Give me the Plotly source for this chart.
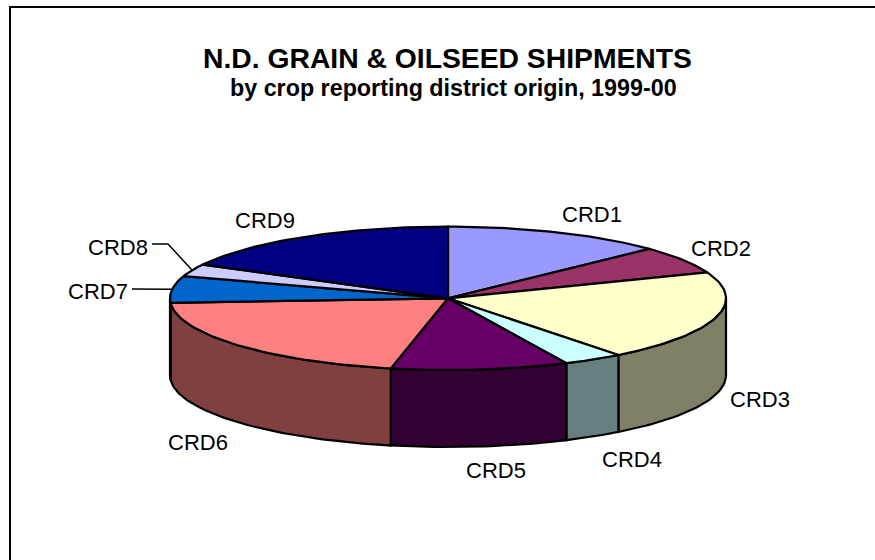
import numpy as np
import plotly.graph_objects as go

categories = ["CRD1", "CRD2", "CRD3", "CRD4", "CRD5", "CRD6", "CRD7", "CRD8", "CRD9"]
shares = [12.9, 6.2, 20.4, 3.5, 10.3, 20.7, 6.0, 2.8, 17.2]
top_colors = ["#9999FF", "#993366", "#FFFFCC", "#CCFFFF", "#660066", "#FF8080", "#0066CC", "#CCCCFF", "#000080"]
side_colors = ["#4C4C80", "#4C1933", "#808066", "#668080", "#330033", "#804040", "#003366", "#666680", "#000040"]
label_x = [592, 721, 760, 632, 496, 198, 98, 118, 265]
label_y = [214, 248, 399, 459, 470, 442, 291, 247, 220]

CX, CY, RX, RY, DEPTH = 448, 298.3, 278, 71.7, 77
LINE = dict(color="black", width=2.2)


def rim(a0, a1, n=None):
    n = n or max(2, int(abs(a1 - a0) / 1.5) + 2)
    t = np.radians(np.linspace(a0, a1, n))
    return CX + RX * np.sin(t), CY - RY * np.cos(t)


fractions = np.array(shares) / sum(shares)
edges = np.concatenate([[0], np.cumsum(fractions) * 360])

fig = go.Figure()

# side walls (only the front half of the disc)
for i, name in enumerate(categories):
    a0, a1 = max(edges[i], 90), min(edges[i + 1], 270)
    if a1 <= a0:
        continue
    x, y = rim(a0, a1)
    fig.add_trace(go.Scatter(
        x=np.concatenate([x, x[::-1], x[:1]]),
        y=np.concatenate([y, y[::-1] + DEPTH, y[:1]]),
        mode="lines", fill="toself", fillcolor=side_colors[i], line=LINE,
        hoverinfo="skip", showlegend=False))

# top faces
for i, name in enumerate(categories):
    x, y = rim(edges[i], edges[i + 1])
    fig.add_trace(go.Scatter(
        x=np.concatenate([[CX], x, [CX]]),
        y=np.concatenate([[CY], y, [CY]]),
        mode="lines", fill="toself", fillcolor=top_colors[i], line=LINE,
        name=name, showlegend=False))

# leader lines for the two thin slices
for i, xs, ys in [(6, [132], [289]), (7, [152, 168], [244, 244])]:
    mid = (edges[i] + edges[i + 1]) / 2
    mx, my = rim(mid, mid, 1)
    fig.add_trace(go.Scatter(x=xs + [mx[0]], y=ys + [my[0]], mode="lines",
                             line=dict(color="black", width=1.5),
                             hoverinfo="skip", showlegend=False))

for name, lx, ly in zip(categories, label_x, label_y):
    fig.add_annotation(x=lx, y=ly, text=name, showarrow=False, xref="x", yref="y",
                       font=dict(family="Liberation Sans", size=22, color="black"))

fig.add_annotation(x=447.5, y=58, text="<b>N.D. GRAIN &amp; OILSEED SHIPMENTS</b>", showarrow=False,
                   xref="x", yref="y", font=dict(family="Liberation Sans", size=28.3, color="black"))
fig.add_annotation(x=453, y=88, text="<b>by crop reporting district origin, 1999-00</b>", showarrow=False,
                   xref="x", yref="y", font=dict(family="Liberation Sans", size=23.3, color="black"))

fig.add_shape(type="rect", x0=10, y0=7, x1=900, y1=600, line=dict(color="black", width=2))

fig.update_layout(
    width=875, height=560, margin=dict(l=0, r=0, t=0, b=0),
    paper_bgcolor="white", plot_bgcolor="white",
    xaxis=dict(range=[0, 875], visible=False, fixedrange=True),
    yaxis=dict(range=[560, 0], visible=False, fixedrange=True),
)
fig.write_html("out.html", config={"displayModeBar": False},
               post_script="document.body.style.margin='0';document.body.style.overflow='hidden';")
